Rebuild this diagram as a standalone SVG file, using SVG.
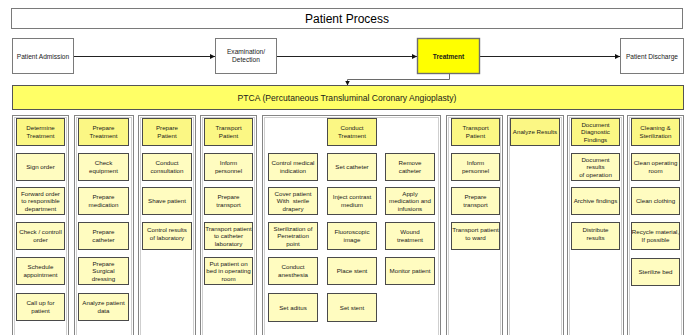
<svg xmlns="http://www.w3.org/2000/svg" width="687" height="335" viewBox="0 0 687 335">
<style>
.bg{fill:#fff}
.frame{fill:#fff;stroke:#7a7a7a;stroke-width:1}
.lane{fill:#fff;stroke:#858585;stroke-width:1}
.lanein{fill:none;stroke:#cfcfcf;stroke-width:1}
.hdr{fill:#fbf784;stroke:#4a4a4a;stroke-width:1}
.item{fill:#fffcc0;stroke:#4a4a4a;stroke-width:1}
.t{font-family:"Liberation Sans",Arial,sans-serif;font-size:6.2px;text-anchor:middle;fill:#1a1a1a}
.ft{font-family:"Liberation Sans",Arial,sans-serif;font-size:6.6px;text-anchor:middle;fill:#1a1a1a}
.con{fill:none;stroke:#222;stroke-width:1}
</style>
<defs>
<marker id="arr" markerWidth="6" markerHeight="6" refX="5" refY="3" orient="auto" markerUnits="userSpaceOnUse">
<path d="M0,0.5 L5,3 L0,5.5 Z" fill="#111"/>
</marker>
</defs>
<rect class="bg" x="0" y="0" width="687" height="335"/>

<g id="title">
<rect class="frame" x="11.5" y="8.5" width="671" height="20"/>
<text x="347" y="22.5" style="font-family:'Liberation Sans',Arial,sans-serif;font-size:12px;text-anchor:middle;fill:#000">Patient Process</text>
</g>

<g id="connectors">
<line class="con" x1="74" y1="56.5" x2="215" y2="56.5" marker-end="url(#arr)"/>
<line class="con" x1="277" y1="56.5" x2="417" y2="56.5" marker-end="url(#arr)"/>
<line class="con" x1="480" y1="56.5" x2="620" y2="56.5" marker-end="url(#arr)"/>
<path d="M449.5,73 V79.5 H347.5 V85.5" fill="none" stroke="#6a6a6a" stroke-width="1" marker-end="url(#arr)"/>
</g>

<g id="patient-admission">
<rect class="frame" x="12.5" y="38.5" width="61" height="35"/>
<text class="ft" x="43" y="58.5">Patient Admission</text>
</g>
<g id="examination">
<rect class="frame" x="215.5" y="38.5" width="61" height="35"/>
<text class="ft"><tspan x="246" y="54">Examination/</tspan><tspan x="246" y="62">Detection</tspan></text>
</g>
<g id="treatment">
<rect x="417.5" y="38.5" width="62" height="35" fill="#ffff00" stroke="#6e6e6e" stroke-width="1.4"/>
<text class="ft" x="448.5" y="58.5" style="font-weight:bold">Treatment</text>
</g>
<g id="patient-discharge">
<rect class="frame" x="620.5" y="38.5" width="63" height="35"/>
<text class="ft" x="652" y="58.5">Patient Discharge</text>
</g>

<g id="ptca">
<rect x="12.5" y="85.5" width="671" height="24" fill="#ffff66" stroke="#555" stroke-width="1"/>
<text x="347" y="101" style="font-family:'Liberation Sans',Arial,sans-serif;font-size:8.6px;text-anchor:middle;fill:#1a1a1a">PTCA (Percutaneous Transluminal Coronary Angioplasty)</text>
</g>

<g id="lanes">
<rect class="lane" x="12.5" y="115.5" width="56" height="240"/><rect class="lanein" x="14.5" y="117.5" width="52" height="240"/>
<rect class="lane" x="74.5" y="115.5" width="59" height="240"/><rect class="lanein" x="76.5" y="117.5" width="55" height="240"/>
<rect class="lane" x="138.5" y="115.5" width="57" height="240"/><rect class="lanein" x="140.5" y="117.5" width="53" height="240"/>
<rect class="lane" x="200.5" y="115.5" width="56" height="240"/><rect class="lanein" x="202.5" y="117.5" width="52" height="240"/>
<rect class="lane" x="262.5" y="115.5" width="178" height="240"/><rect class="lanein" x="264.5" y="117.5" width="174" height="240"/>
<rect class="lane" x="446.5" y="115.5" width="56" height="240"/><rect class="lanein" x="448.5" y="117.5" width="52" height="240"/>
<rect class="lane" x="507.5" y="115.5" width="56" height="240"/><rect class="lanein" x="509.5" y="117.5" width="52" height="240"/>
<rect class="lane" x="567.5" y="115.5" width="56" height="240"/><rect class="lanein" x="569.5" y="117.5" width="52" height="240"/>
<rect class="lane" x="627.5" y="115.5" width="56" height="240"/><rect class="lanein" x="629.5" y="117.5" width="52" height="240"/>
</g>

<!-- Lane 1 -->
<g id="determine-treatment"><rect class="hdr" x="16.5" y="118.5" width="48" height="27"/><text class="t"><tspan x="40.5" y="130">Determine</tspan><tspan x="40.5" y="138">Treatment</tspan></text></g>
<g id="sign-order"><rect class="item" x="16.5" y="153.5" width="48" height="27"/><text class="t" x="40.5" y="169">Sign order</text></g>
<g id="forward-order"><rect class="item" x="16.5" y="187.5" width="48" height="27"/><text class="t"><tspan x="40.5" y="195.5">Forward order</tspan><tspan x="40.5" y="203">to responsible</tspan><tspan x="40.5" y="210.5">department</tspan></text></g>
<g id="check-order"><rect class="item" x="16.5" y="222.5" width="48" height="27"/><text class="t"><tspan x="40.5" y="234">Check / controll</tspan><tspan x="40.5" y="242">order</tspan></text></g>
<g id="schedule"><rect class="item" x="16.5" y="257.5" width="48" height="27"/><text class="t"><tspan x="40.5" y="269">Schedule</tspan><tspan x="40.5" y="277">appointment</tspan></text></g>
<g id="call-up"><rect class="item" x="16.5" y="293.5" width="48" height="27"/><text class="t"><tspan x="40.5" y="305">Call up for</tspan><tspan x="40.5" y="313">patient</tspan></text></g>

<!-- Lane 2 -->
<g id="prepare-treatment"><rect class="hdr" x="78.5" y="118.5" width="50" height="27"/><text class="t"><tspan x="103.5" y="130">Prepare</tspan><tspan x="103.5" y="138">Treatment</tspan></text></g>
<g id="check-equipment"><rect class="item" x="78.5" y="153.5" width="50" height="27"/><text class="t"><tspan x="103.5" y="165">Check</tspan><tspan x="103.5" y="173">equipment</tspan></text></g>
<g id="prepare-medication"><rect class="item" x="78.5" y="187.5" width="50" height="27"/><text class="t"><tspan x="103.5" y="199">Prepare</tspan><tspan x="103.5" y="207">medication</tspan></text></g>
<g id="prepare-catheter"><rect class="item" x="78.5" y="222.5" width="50" height="27"/><text class="t"><tspan x="103.5" y="234">Prepare</tspan><tspan x="103.5" y="242">catheter</tspan></text></g>
<g id="prepare-dressing"><rect class="item" x="78.5" y="257.5" width="50" height="27"/><text class="t"><tspan x="103.5" y="265.5">Prepare</tspan><tspan x="103.5" y="273">Surgical</tspan><tspan x="103.5" y="280.5">dressing</tspan></text></g>
<g id="analyze-patient-data"><rect class="item" x="78.5" y="293.5" width="50" height="27"/><text class="t"><tspan x="103.5" y="305">Analyze patient</tspan><tspan x="103.5" y="313">data</tspan></text></g>

<!-- Lane 3 -->
<g id="prepare-patient"><rect class="hdr" x="142.5" y="118.5" width="49" height="27"/><text class="t"><tspan x="167" y="130">Prepare</tspan><tspan x="167" y="138">Patient</tspan></text></g>
<g id="conduct-consultation"><rect class="item" x="142.5" y="153.5" width="49" height="27"/><text class="t"><tspan x="167" y="165">Conduct</tspan><tspan x="167" y="173">consultation</tspan></text></g>
<g id="shave-patient"><rect class="item" x="142.5" y="187.5" width="49" height="27"/><text class="t" x="167" y="203">Shave patient</text></g>
<g id="control-results"><rect class="item" x="142.5" y="222.5" width="49" height="27"/><text class="t"><tspan x="167" y="232">Control results</tspan><tspan x="167" y="240">of laboratory</tspan></text></g>

<!-- Lane 4 -->
<g id="transport-patient-1"><rect class="hdr" x="204.5" y="118.5" width="48" height="27"/><text class="t"><tspan x="228.5" y="130">Transport</tspan><tspan x="228.5" y="138">Patient</tspan></text></g>
<g id="inform-personnel-1"><rect class="item" x="204.5" y="153.5" width="48" height="27"/><text class="t"><tspan x="228.5" y="165">Inform</tspan><tspan x="228.5" y="173">personnel</tspan></text></g>
<g id="prepare-transport-1"><rect class="item" x="204.5" y="187.5" width="48" height="27"/><text class="t"><tspan x="228.5" y="199">Prepare</tspan><tspan x="228.5" y="207">transport</tspan></text></g>
<g id="transport-to-lab"><rect class="item" x="204.5" y="222.5" width="48" height="27"/><text class="t"><tspan x="228.5" y="230.5">Transport patient</tspan><tspan x="228.5" y="238">to catheter</tspan><tspan x="228.5" y="245.5">laboratory</tspan></text></g>
<g id="put-patient-bed"><rect class="item" x="204.5" y="257.5" width="48" height="27"/><text class="t"><tspan x="228.5" y="265.5">Put patient on</tspan><tspan x="228.5" y="273">bed in operating</tspan><tspan x="228.5" y="280.5">room</tspan></text></g>

<!-- Lane 5 -->
<g id="conduct-treatment"><rect class="hdr" x="327.5" y="118.5" width="49" height="27"/><text class="t"><tspan x="352" y="130">Conduct</tspan><tspan x="352" y="138">Treatment</tspan></text></g>
<g id="control-medical"><rect class="item" x="268.5" y="153.5" width="49" height="27"/><text class="t"><tspan x="293" y="165">Control medical</tspan><tspan x="293" y="173">indication</tspan></text></g>
<g id="set-catheter"><rect class="item" x="327.5" y="153.5" width="49" height="27"/><text class="t" x="352" y="169">Set catheter</text></g>
<g id="remove-catheter"><rect class="item" x="385.5" y="153.5" width="49" height="27"/><text class="t"><tspan x="410" y="165">Remove</tspan><tspan x="410" y="173">catheter</tspan></text></g>
<g id="cover-patient"><rect class="item" x="268.5" y="187.5" width="49" height="27"/><text class="t"><tspan x="293" y="195.5">Cover patient</tspan><tspan x="293" y="203" xml:space="preserve">With  sterile</tspan><tspan x="293" y="210.5">drapery</tspan></text></g>
<g id="inject-contrast"><rect class="item" x="327.5" y="187.5" width="49" height="27"/><text class="t"><tspan x="352" y="199">Inject contrast</tspan><tspan x="352" y="207">medium</tspan></text></g>
<g id="apply-medication"><rect class="item" x="385.5" y="187.5" width="49" height="27"/><text class="t"><tspan x="410" y="195.5">Apply</tspan><tspan x="410" y="203">medication and</tspan><tspan x="410" y="210.5">infusions</tspan></text></g>
<g id="sterilization-point"><rect class="item" x="268.5" y="222.5" width="49" height="27"/><text class="t"><tspan x="293" y="230.5">Sterilization of</tspan><tspan x="293" y="238">Penetration</tspan><tspan x="293" y="245.5">point</tspan></text></g>
<g id="fluoroscopic-image"><rect class="item" x="327.5" y="222.5" width="49" height="27"/><text class="t"><tspan x="352" y="234">Fluoroscopic</tspan><tspan x="352" y="242">image</tspan></text></g>
<g id="wound-treatment"><rect class="item" x="385.5" y="222.5" width="49" height="27"/><text class="t"><tspan x="410" y="234">Wound</tspan><tspan x="410" y="242">treatment</tspan></text></g>
<g id="conduct-anesthesia"><rect class="item" x="268.5" y="257.5" width="49" height="27"/><text class="t"><tspan x="293" y="269">Conduct</tspan><tspan x="293" y="277">anesthesia</tspan></text></g>
<g id="place-stent"><rect class="item" x="327.5" y="257.5" width="49" height="27"/><text class="t" x="352" y="273">Place stent</text></g>
<g id="monitor-patient"><rect class="item" x="385.5" y="257.5" width="49" height="27"/><text class="t" x="410" y="273">Monitor patient</text></g>
<g id="set-aditus"><rect class="item" x="268.5" y="293.5" width="49" height="28"/><text class="t" x="293" y="309.5">Set aditus</text></g>
<g id="set-stent"><rect class="item" x="327.5" y="293.5" width="49" height="28"/><text class="t" x="352" y="309.5">Set stent</text></g>

<!-- Lane 6 -->
<g id="transport-patient-2"><rect class="hdr" x="451.5" y="118.5" width="48" height="27"/><text class="t"><tspan x="475.5" y="130">Transport</tspan><tspan x="475.5" y="138">Patient</tspan></text></g>
<g id="inform-personnel-2"><rect class="item" x="451.5" y="153.5" width="48" height="27"/><text class="t"><tspan x="475.5" y="165">Inform</tspan><tspan x="475.5" y="173">personnel</tspan></text></g>
<g id="prepare-transport-2"><rect class="item" x="451.5" y="187.5" width="48" height="27"/><text class="t"><tspan x="475.5" y="199">Prepare</tspan><tspan x="475.5" y="207">transport</tspan></text></g>
<g id="transport-to-ward"><rect class="item" x="451.5" y="222.5" width="48" height="27"/><text class="t"><tspan x="475.5" y="232">Transport patient</tspan><tspan x="475.5" y="240">to ward</tspan></text></g>

<!-- Lane 7 -->
<g id="analyze-results"><rect class="hdr" x="510.5" y="118.5" width="49" height="27"/><text class="t" x="535" y="134">Analyze Results</text></g>

<!-- Lane 8 -->
<g id="document-findings"><rect class="hdr" x="571.5" y="118.5" width="48" height="27"/><text class="t"><tspan x="595.5" y="126.5">Document</tspan><tspan x="595.5" y="134">Diagnostic</tspan><tspan x="595.5" y="141.5">Findings</tspan></text></g>
<g id="document-results"><rect class="item" x="571.5" y="153.5" width="48" height="27"/><text class="t"><tspan x="595.5" y="161.5">Document</tspan><tspan x="595.5" y="169">results</tspan><tspan x="595.5" y="176.5">of operation</tspan></text></g>
<g id="archive-findings"><rect class="item" x="571.5" y="187.5" width="48" height="27"/><text class="t" x="595.5" y="203">Archive findings</text></g>
<g id="distribute-results"><rect class="item" x="571.5" y="222.5" width="48" height="27"/><text class="t"><tspan x="595.5" y="232">Distribute</tspan><tspan x="595.5" y="240">results</tspan></text></g>

<!-- Lane 9 -->
<g id="cleaning-sterilization"><rect class="hdr" x="631.5" y="118.5" width="48" height="27"/><text class="t"><tspan x="655.5" y="130">Cleaning &amp;</tspan><tspan x="655.5" y="138">Sterilization</tspan></text></g>
<g id="clean-room"><rect class="item" x="631.5" y="153.5" width="48" height="27"/><text class="t"><tspan x="655.5" y="165">Clean operating</tspan><tspan x="655.5" y="173">room</tspan></text></g>
<g id="clean-clothing"><rect class="item" x="631.5" y="187.5" width="48" height="27"/><text class="t" x="655.5" y="203">Clean clothing</text></g>
<g id="recycle-material"><rect class="item" x="631.5" y="222.5" width="48" height="27"/><text class="t"><tspan x="655.5" y="234">Recycle material,</tspan><tspan x="655.5" y="242">If possible</tspan></text></g>
<g id="sterilize-bed"><rect class="item" x="631.5" y="258.5" width="48" height="27"/><text class="t" x="655.5" y="274">Sterilize bed</text></g>
</svg>
